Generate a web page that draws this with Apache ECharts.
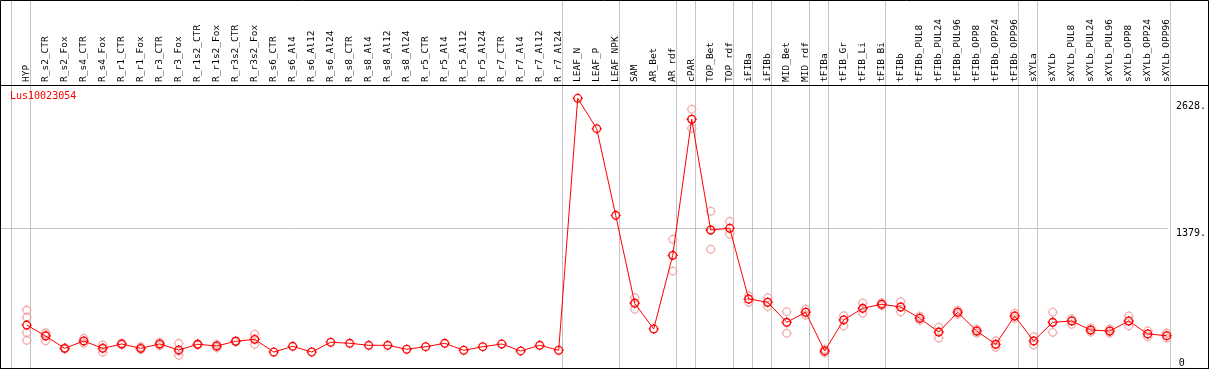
<!DOCTYPE html>
<html>
<head>
<meta charset="utf-8">
<script src="https://cdn.jsdelivr.net/npm/echarts@6/dist/echarts.min.js"></script>
<style>
html,body{margin:0;padding:0;background:#fff;}
#chart{width:1209px;height:370px;}
</style>
</head>
<body>
<div id="chart"></div>
<script>
const categories = ["HYP","R_s2_CTR","R_s2_Fox","R_s4_CTR","R_s4_Fox","R_r1_CTR","R_r1_Fox","R_r3_CTR","R_r3_Fox","R_r1s2_CTR","R_r1s2_Fox","R_r3s2_CTR","R_r3s2_Fox","R_s6_CTR","R_s6_Al4","R_s6_Al12","R_s6_Al24","R_s8_CTR","R_s8_Al4","R_s8_Al12","R_s8_Al24","R_r5_CTR","R_r5_Al4","R_r5_Al12","R_r5_Al24","R_r7_CTR","R_r7_Al4","R_r7_Al12","R_r7_Al24","LEAF_N","LEAF_P","LEAF_NPK","SAM","AR_Bet","AR_rdf","cPAR","TOP_Bet","TOP_rdf","iFIBa","iFIBb","MID_Bet","MID_rdf","tFIBa","tFIB_Gr","tFIB_Li","tFIB_Bi","tFIBb","tFIBb_PUL8","tFIBb_PUL24","tFIBb_PUL96","tFIBb_OPP8","tFIBb_OPP24","tFIBb_OPP96","sXYLa","sXYLb","sXYLb_PUL8","sXYLb_PUL24","sXYLb_PUL96","sXYLb_OPP8","sXYLb_OPP24","sXYLb_OPP96"];

const means = [424,316,194,267,194,237,194,237,178,234,217,264,283,158,214,158,254,244,224,224,185,210,244,175,210,237,168,224,175,2662,2362,1507,639,385,1112,2455,1362,1379,681,649,451,550,168,474,589,629,602,491,355,550,365,234,513,267,451,464,375,365,464,336,319];

const replicates = [
  [572,500,348,273],[348,330,269],[200,190,192],[293,265,244],[227,200,155],[245,237,230],[210,187,185],[254,237,220],[244,165,125],[240,234,228],[234,217,200],[270,264,258],[333,283,234],
  [],[],[],[],[],[],[],[],[],[],[],[],[],[],[],[],
  [],[],[],[694,645,579],[],[1270,1112,957],[2554,2455,2366],[1547,1362,1172],[1448,1379,1320],[711,678,649],[694,649,605],[556,451,343],[582,550,523],[185,168,150],[516,474,415],[642,589,540],[645,629,615],[654,602,553],[510,491,470],[402,355,296],[570,550,530],[385,365,345],[269,234,204],[540,513,489],
  [309,267,227],[550,451,352],[484,464,431],[395,375,355],[385,365,345],[513,464,415],[365,336,311],[345,319,296]
];

const title = "Lus10023054";
const yTickLabels = [1379, 2628];
const yZeroLabel = [0];
const yMax = 2793;
// separator lines are drawn just after these category indices
const separators = [-1,0,28,31,34,35,37,38,39,41,42,45,52,53,60];
const sepOffset = 0.184;

const FONT = "'DejaVu Sans Mono', 'Liberation Mono', monospace";
const repData = [];
replicates.forEach((arr, i) => arr.forEach(v => repData.push([i, v])));

const sym = 'path://M5,0L5,1.6M5,8.4L5,10M0,5L1.6,5M8.4,5L10,5M1.2,5A3.8,3.8,0,1,1,8.8,5A3.8,3.8,0,1,1,1.2,5Z';

const chart = echarts.init(document.getElementById('chart'), null, {renderer:'canvas'});
chart.setOption({
  animation: false,
  backgroundColor: '#fff',
  title: {
    text: title, left: 10, top: 91, padding: 0,
    textStyle: {color: '#ff0000', fontSize: 10, fontWeight: 'normal', fontFamily: FONT}
  },
  grid: [
    {left: 0.5, top: 0.5, right: 0.5, bottom: 1.5, show: true, borderColor: '#000', borderWidth: 1, backgroundColor: 'transparent', z: 5},
    {left: 0.5, top: 85.5, right: 0.5, bottom: 1.5, show: true, borderColor: '#000', borderWidth: 1, backgroundColor: 'transparent', z: 5},
    {left: 1, top: 85, right: 39, bottom: 2},
    {left: 17.2, top: 85, right: 32.8, bottom: 2}
  ],
  xAxis: [
    {gridIndex: 0, type: 'value', show: false},
    {gridIndex: 1, type: 'value', show: false},
    {gridIndex: 2, type: 'value', show: false, min: 0, max: 1},
    {gridIndex: 3, type: 'category', data: categories, position: 'top', boundaryGap: true,
     axisLine: {show: false}, axisTick: {show: false}, splitLine: {show: false},
     axisLabel: {rotate: 90, interval: 0, margin: 3, fontSize: 9.5, fontFamily: FONT, color: '#000'}}
  ],
  yAxis: [
    {gridIndex: 0, type: 'value', show: false},
    {gridIndex: 1, type: 'value', show: false},
    {gridIndex: 2, type: 'value', min: 0, max: yMax, position: 'right',
     axisLine: {show: false}, axisTick: {show: false, customValues: [1379]},
     splitLine: {show: true, lineStyle: {color: '#c4c4c4', width: 1}},
     axisLabel: {customValues: yTickLabels, formatter: v => v + '.', verticalAlign: 'top', align: 'left', margin: 8,
                 fontSize: 10, fontFamily: FONT, color: '#000'}},
    {gridIndex: 3, type: 'value', min: 0, max: yMax, position: 'right',
     axisLine: {show: false}, axisTick: {show: false}, splitLine: {show: false},
     axisLabel: {customValues: yZeroLabel, formatter: v => String(v), verticalAlign: 'bottom', align: 'left', margin: 2.5,
                 fontSize: 10, fontFamily: FONT, color: '#000'}}
  ],
  series: [
    {
      type: 'custom', xAxisIndex: 3, yAxisIndex: 3, clip: false, z: 1, silent: true,
      data: [[0, 0]],
      renderItem: function (params, api) {
        const p0 = api.coord([0, 0]);
        const p1 = api.coord([1, 0]);
        const step = p1[0] - p0[0];
        const cs = params.coordSys;
        return {
          type: 'group',
          children: separators.map(i => {
            const x = Math.floor(p0[0] + step * (i + sepOffset)) + 0.5;
            return {type: 'line', shape: {x1: x, y1: 1, x2: x, y2: cs.y + cs.height},
                    style: {stroke: '#c4c4c4', lineWidth: 1}};
          })
        };
      }
    },
    {
      type: 'scatter', xAxisIndex: 3, yAxisIndex: 3, z: 2,
      data: repData, symbol: sym, symbolSize: 10,
      itemStyle: {color: 'transparent', borderColor: '#f09a9a', borderWidth: 1.3}
    },
    {
      type: 'line', xAxisIndex: 3, yAxisIndex: 3, z: 3,
      data: means, symbol: sym, symbolSize: 10, showAllSymbol: true,
      lineStyle: {color: '#ff0000', width: 1},
      itemStyle: {color: 'transparent', borderColor: '#ff0000', borderWidth: 1.3}
    }
  ]
});
</script>
</body>
</html>
